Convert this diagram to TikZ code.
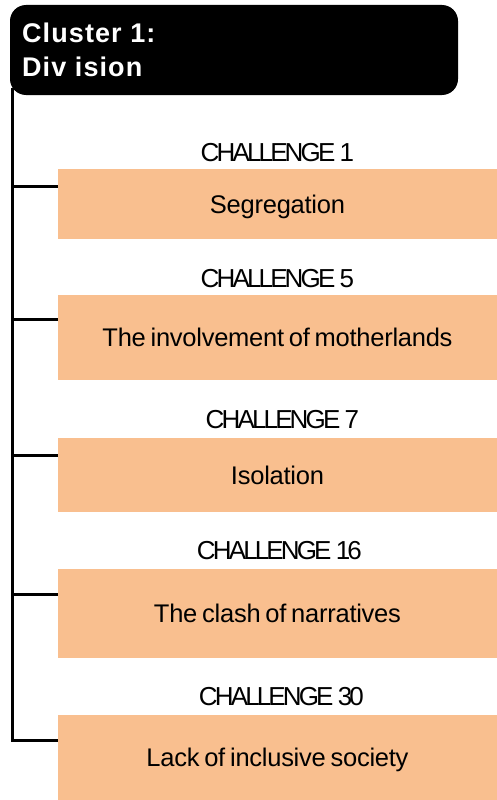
\documentclass[tikz,border=0pt]{standalone}
\usepackage{fontspec}
\setmainfont{Liberation Sans}
\newfontfamily\labelfont[LetterSpace=-11]{Liberation Sans}
\newfontfamily\boxfont[LetterSpace=-1,WordSpace=0.7]{Liberation Sans}
\newfontfamily\headfont[LetterSpace=4]{Liberation Sans}
\usetikzlibrary{calc}
\definecolor{peach}{HTML}{F9BF8F}
\tikzset{
  header/.style={fill=black, rounded corners=16pt, minimum width=448pt, minimum height=90pt, inner sep=0pt},
  headtext/.style={anchor=base west, inner sep=0pt, text=white, font=\headfont\bfseries\fontsize{27pt}{32pt}\selectfont},
  chbox/.style={fill=peach, anchor=north west, minimum width=439.5pt, inner sep=0pt, text height=18pt, text depth=0pt, font=\boxfont\fontsize{25.5pt}{30pt}\selectfont},
  chlabel/.style={anchor=base, inner sep=0pt, font=\labelfont\fontsize{26pt}{30pt}\selectfont},
  tree/.style={line width=3pt, black}
}
\begin{document}
\begin{tikzpicture}[x=1pt, y=-1pt]
  \useasboundingbox (0,0) rectangle (497,800);

  % cluster header
  \node[header] (hdr) at (234,50) {};
  \node[headtext] (hdrA) at (22,43) {Cluster 1:};
  \node[headtext] (hdrB) at (22,77) {Div ision};

  % challenge boxes
  \node[chbox, minimum height=70pt] (b1) at (57.5,169) {Segregation};
  \node[chbox, minimum height=85pt] (b2) at (57.5,295) {The involvement of motherlands};
  \node[chbox, minimum height=74pt] (b3) at (57.5,438) {Isolation};
  \node[chbox, minimum height=89pt] (b4) at (57.5,569) {The clash of narratives};
  \node[chbox, minimum height=85pt] (b5) at (57.5,715) {Lack of inclusive society};

  % labels above the boxes
  \node[chlabel] (l1) at ($(b1.north)+(0,-8)$) {CHALLENGE 1};
  \node[chlabel] (l2) at ($(b2.north)+(0,-8)$) {CHALLENGE 5};
  \node[chlabel] (l3) at ($(b3.north)+(5,-10)$) {CHALLENGE 7};
  \node[chlabel] (l4) at ($(b4.north)+(2,-10)$) {CHALLENGE 16};
  \node[chlabel] (l5) at ($(b5.north)+(4,-10)$) {CHALLENGE 30};

  % spine and branches
  \coordinate (spinetop) at (12,88);
  \coordinate (j1) at ($(b1.north west)+(0,17)$);
  \coordinate (j2) at ($(b2.north west)+(0,24)$);
  \coordinate (j3) at ($(b3.north west)+(0,17)$);
  \coordinate (j4) at ($(b4.north west)+(0,25)$);
  \coordinate (j5) at ($(b5.north west)+(0,25)$);
  \draw[tree, line join=miter] (spinetop) |- (j5);
  \foreach \j in {j1,j2,j3,j4}
    \draw[tree] (spinetop |- \j) -- (\j);
\end{tikzpicture}
\end{document}
